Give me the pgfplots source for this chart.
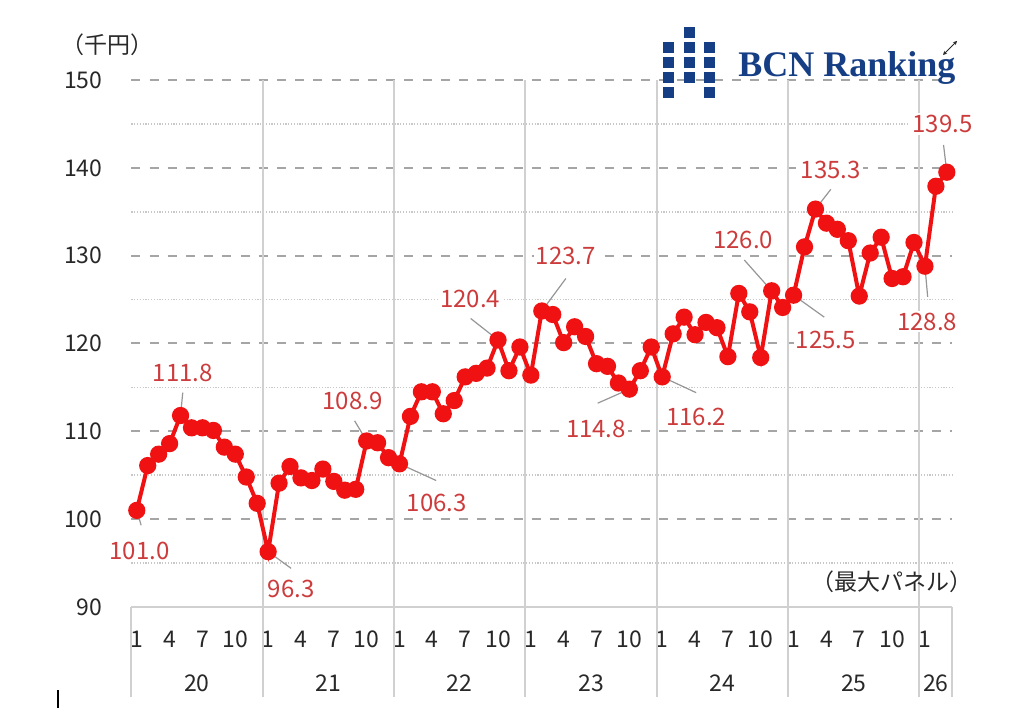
\documentclass[border=0pt]{standalone}
\usepackage{pgfplots}
\pgfplotsset{compat=1.18}
\usetikzlibrary{arrows.meta}
\usepackage{fontspec}
\setmainfont{Noto Sans CJK JP}
\newfontfamily\logofont{Liberation Serif}
\definecolor{lred}{RGB}{240,18,18}
\definecolor{labred}{RGB}{205,60,60}
\definecolor{navy}{RGB}{22,62,132}
\definecolor{dashgray}{RGB}{165,165,165}
\definecolor{dotgray}{RGB}{200,200,200}
\definecolor{yeargray}{RGB}{208,208,208}
\definecolor{txtgray}{RGB}{40,40,40}
\definecolor{leadgray}{RGB}{150,150,150}

\pgfplotstableread{
idx val
0 101.0
1 106.1
2 107.4
3 108.6
4 111.8
5 110.4
6 110.4
7 110.1
8 108.2
9 107.4
10 104.8
11 101.8
12 96.3
13 104.1
14 106.0
15 104.7
16 104.4
17 105.7
18 104.3
19 103.3
20 103.4
21 108.9
22 108.7
23 107.0
24 106.3
25 111.7
26 114.5
27 114.5
28 112.0
29 113.5
30 116.2
31 116.6
32 117.2
33 120.4
34 116.9
35 119.6
36 116.4
37 123.7
38 123.3
39 120.1
40 121.9
41 120.8
42 117.7
43 117.4
44 115.5
45 114.8
46 116.9
47 119.6
48 116.2
49 121.1
50 123.0
51 121.0
52 122.4
53 121.8
54 118.5
55 125.7
56 123.6
57 118.4
58 126.0
59 124.1
60 125.5
61 131.0
62 135.3
63 133.7
64 133.0
65 131.7
66 125.4
67 130.3
68 132.1
69 127.4
70 127.6
71 131.5
72 128.8
73 137.9
74 139.5
}\pricedata

\begin{document}
\begin{tikzpicture}[
  leader/.style={leadgray, line width=0.6pt},
  lbl/.style={font=\fontsize{12}{12}\selectfont, text=labred, fill=white, inner sep=1pt},
  yr/.style={font=\fontsize{11.5}{12}\selectfont, text=txtgray, inner sep=0pt},
]
\path[use as bounding box] (0,0) rectangle (508.5pt,357.5pt);
\begin{axis}[
  at={(65.65pt,54pt)}, anchor=south west,
  scale only axis, width=410.5pt, height=263.5pt,
  xmin=-0.5, xmax=74.5, ymin=90, ymax=150,
  clip=false,
  axis lines=left, axis line style={draw=none,-},
  major tick length=0pt, minor tick length=0pt,
  /pgf/number format/assume math mode=true,
  ytick={100,110,...,150},
  extra y ticks={90},
  extra y tick style={grid=none},
  minor ytick={95,105,...,145},
  ymajorgrids, yminorgrids,
  major grid style={dashgray, line width=1pt, dash pattern=on 4.5pt off 4.6pt},
  minor grid style={dotgray, line width=0.8pt, dash pattern=on 0.6pt off 0.8pt},
  xtick={0,3,...,72},
  xticklabels={1,4,7,10,1,4,7,10,1,4,7,10,1,4,7,10,1,4,7,10,1,4,7,10,1},
  extra x ticks={11.5,23.5,35.5,47.5,59.5,71.5},
  extra x tick labels={},
  extra x tick style={grid=major, major grid style={solid, yeargray, line width=1pt}},
  ticklabel style={font=\fontsize{11.5}{12}\selectfont, text=txtgray},
  yticklabel style={anchor=east, inner sep=0pt, xshift=-14.2pt},
  xticklabel style={anchor=center, inner sep=0pt, yshift=-16pt},
]
% x axis line and category separators below the plot
\draw[yeargray, line width=1.3pt] (axis cs:-0.5,90) -- (axis cs:74.5,90);
\foreach \xx in {-0.5,11.5,23.5,35.5,47.5,59.5,71.5,74.5}{
  \edef\tmp{\noexpand\draw[yeargray, line width=1pt] (axis cs:\xx,90) -- (axis cs:\xx,79.73);}
  \tmp
}
\node[yr] at (axis cs:5.5,81.33) {20};
\node[yr] at (axis cs:17.5,81.33) {21};
\node[yr] at (axis cs:29.5,81.33) {22};
\node[yr] at (axis cs:41.5,81.33) {23};
\node[yr] at (axis cs:53.5,81.33) {24};
\node[yr] at (axis cs:65.5,81.33) {25};
\node[yr] at (axis cs:73,81.33) {26};
% leader lines
\draw[leader] (axis cs:0,101.0) -- (axis cs:0.4,99.3);
\draw[leader] (axis cs:4,111.8) -- (axis cs:4.2,114.4);
\draw[leader] (axis cs:12,96.3) -- (axis cs:14.1,94.4);
\draw[leader] (axis cs:21,108.9) -- (axis cs:19.9,111.2);
\draw[leader] (axis cs:24,106.3) -- (axis cs:27.35,104.4);
\draw[leader] (axis cs:33,120.4) -- (axis cs:30.5,122.85);
\draw[leader] (axis cs:37,123.7) -- (axis cs:39.2,127.4);
\draw[leader] (axis cs:45,114.8) -- (axis cs:42.1,113.2);
\draw[leader] (axis cs:48,116.2) -- (axis cs:51.1,114.4);
\draw[leader] (axis cs:58,126.0) -- (axis cs:55.5,129.5);
\draw[leader] (axis cs:60,125.5) -- (axis cs:62.8,123.0);
\draw[leader] (axis cs:62,135.3) -- (axis cs:63.4,137.55);
\draw[leader] (axis cs:72,128.8) -- (axis cs:72.25,125.3);
\draw[leader] (axis cs:74,139.5) -- (axis cs:73.7,142.6);
% data
\addplot[lred, line width=2pt, mark=*, mark size=3.3pt, mark options={fill=lred, draw=lred}] table[x=idx, y=val] {\pricedata};
% data labels
\node[lbl] at (axis cs:0.25,96.35) {101.0};
\node[lbl] at (axis cs:4.2,116.65) {111.8};
\node[lbl] at (axis cs:14.1,92.0) {96.3};
\node[lbl] at (axis cs:19.7,113.5) {108.9};
\node[lbl] at (axis cs:27.4,101.9) {106.3};
\node[lbl] at (axis cs:30.45,125.1) {120.4};
\node[lbl] at (axis cs:39.2,129.95) {123.7};
\node[lbl] at (axis cs:41.95,110.3) {114.8};
\node[lbl] at (axis cs:51.1,111.6) {116.2};
\node[lbl] at (axis cs:55.4,131.8) {126.0};
\node[lbl] at (axis cs:62.95,120.4) {125.5};
\node[lbl] at (axis cs:63.4,139.8) {135.3};
\node[lbl] at (axis cs:72.2,122.5) {128.8};
\node[lbl] at (axis cs:73.6,145.0) {139.5};
\end{axis}
% unit and panel notes
\node[font=\fontsize{11.5}{12}\selectfont, text=txtgray, inner sep=0pt] at (53.75pt,335pt) {（千円）};
\node[font=\fontsize{11.5}{12}\selectfont, text=txtgray, inner sep=0pt] at (446pt,66.5pt) {（最大パネル）};
% logo
\fill[navy] (331.5pt,331pt) rectangle (337pt,336.5pt);
\fill[navy] (331.5pt,323.5pt) rectangle (337pt,329pt);
\fill[navy] (331.5pt,316pt) rectangle (337pt,321.5pt);
\fill[navy] (331.5pt,308.5pt) rectangle (337pt,314pt);
\fill[navy] (342pt,338.5pt) rectangle (347.5pt,344pt);
\fill[navy] (342pt,331pt) rectangle (347.5pt,336.5pt);
\fill[navy] (342pt,323.5pt) rectangle (347.5pt,329pt);
\fill[navy] (342pt,316pt) rectangle (347.5pt,321.5pt);
\fill[navy] (352pt,331pt) rectangle (357.5pt,336.5pt);
\fill[navy] (352pt,323.5pt) rectangle (357.5pt,329pt);
\fill[navy] (352pt,316pt) rectangle (357.5pt,321.5pt);
\fill[navy] (352pt,308.5pt) rectangle (357.5pt,314pt);
\node[anchor=base west, inner sep=0pt, text=navy, font=\logofont\bfseries\fontsize{18}{18}\selectfont] at (369pt,319pt) {BCN Ranking};
% expand icon (drawn as a shape)
\draw[txtgray, line width=0.45pt, {Stealth[length=2pt,width=2pt]}-{Stealth[length=2pt,width=2pt]}] (471.5pt,330pt) -- (478.5pt,337pt);
\draw[black, line width=0.6pt] (29pt,3.5pt) -- (29pt,12.5pt);
\end{tikzpicture}
\end{document}
